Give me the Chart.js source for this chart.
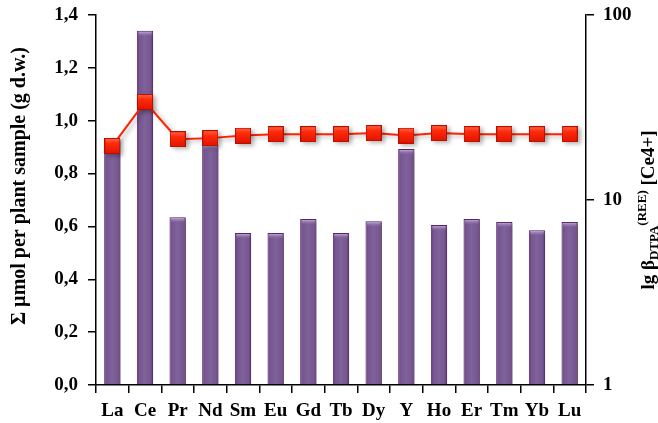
<!DOCTYPE html>
<html>
<head>
<meta charset="utf-8">
<script src="https://cdn.jsdelivr.net/npm/chart.js@4.4.0/dist/chart.umd.min.js"></script>
<style>
  html, body { margin: 0; padding: 0; background: #fff; }
  #wrap { width: 658px; height: 423px; }
</style>
</head>
<body>
<div id="wrap"><canvas id="chart" width="658" height="423"></canvas></div>
<script>
const elements = ['La', 'Ce', 'Pr', 'Nd', 'Sm', 'Eu', 'Gd', 'Tb', 'Dy', 'Y', 'Ho', 'Er', 'Tm', 'Yb', 'Lu'];
const umolPerSample = [0.93, 1.34, 0.635, 0.91, 0.575, 0.575, 0.628, 0.575, 0.62, 0.893, 0.605, 0.628, 0.617, 0.586, 0.617];
const lgBeta = [19.6, 33.9, 21.3, 21.6, 22.3, 22.7, 22.7, 22.7, 23.0, 22.3, 23.0, 22.7, 22.7, 22.7, 22.7];
const leftTicks = [0, 0.2, 0.4, 0.6, 0.8, 1.0, 1.2, 1.4];
const rightTicks = [1, 10, 100];

const SERIF = "'Liberation Serif', 'Times New Roman', serif";
const tickFont = { family: SERIF, size: 19, weight: 'bold' };

// red square marker with a bit of shading
function makeMarker() {
  const c = document.createElement('canvas');
  c.width = 16; c.height = 16;
  const g = c.getContext('2d');
  const grad = g.createLinearGradient(0, 0, 0, 16);
  grad.addColorStop(0, '#ff6a4a');
  grad.addColorStop(0.35, '#ff2a0a');
  grad.addColorStop(1, '#e01400');
  g.fillStyle = grad;
  g.fillRect(0, 0, 16, 16);
  g.strokeStyle = '#b81000';
  g.lineWidth = 1;
  g.strokeRect(0.5, 0.5, 15, 15);
  return c;
}
const marker = makeMarker();

function barFill(ctx) {
  const chart = ctx.chart;
  const xs = chart.scales && chart.scales.x;
  if (!xs || ctx.dataIndex === undefined) return '#7a5c92';
  const cx = xs.getPixelForValue(ctx.dataIndex);
  if (!isFinite(cx)) return '#7a5c92';
  const half = 8.5;
  const grad = chart.ctx.createLinearGradient(cx - half, 0, cx + half, 0);
  grad.addColorStop(0, '#5a2670');
  grad.addColorStop(0.16, '#765692');
  grad.addColorStop(0.5, '#7e6298');
  grad.addColorStop(0.84, '#765692');
  grad.addColorStop(1, '#5a2670');
  return grad;
}

const shadowPlugin = {
  id: 'shadow',
  beforeDatasetDraw(chart) {
    const ctx = chart.ctx;
    ctx.save();
    ctx.shadowColor = 'rgba(0,0,0,0.3)';
    ctx.shadowBlur = 4;
    ctx.shadowOffsetX = 3;
    ctx.shadowOffsetY = 2;
  },
  afterDatasetDraw(chart, args) {
    const ctx = chart.ctx;
    ctx.restore();
    // lighter cap on top of each bar
    if (args.meta.type !== 'bar') return;
    ctx.save();
    args.meta.data.forEach(bar => {
      const w = bar.width - 3;
      const g = ctx.createLinearGradient(0, bar.y + 1, 0, bar.y + 6);
      g.addColorStop(0, 'rgba(200,170,215,0.9)');
      g.addColorStop(1, 'rgba(126,98,152,0)');
      ctx.fillStyle = g;
      ctx.fillRect(bar.x - w / 2, bar.y + 1, w, 5);
    });
    ctx.restore();
  }
};

const titlePlugin = {
  id: 'axisTitles',
  afterDraw(chart) {
    const ctx = chart.ctx;
    ctx.save();
    ctx.fillStyle = '#000';
    ctx.textBaseline = 'middle';
    // left title
    ctx.font = 'bold 20px ' + SERIF;
    ctx.translate(20, 186);
    ctx.rotate(-Math.PI / 2);
    ctx.textAlign = 'center';
    ctx.fillText('\u03A3 \u00B5mol per plant sample (g d.w.)', 0, 0);
    ctx.restore();

    // right title: lg beta, subscript DTPA, superscript (REE), [Ce4+]
    ctx.save();
    ctx.fillStyle = '#000';
    ctx.textBaseline = 'alphabetic';
    const big = 'bold 19px ' + SERIF;
    const small = 'bold 13px ' + SERIF;
    const t0 = 'lg \u03B2', t1 = 'DTPA', t2 = '(REE)', t3 = ' [Ce4+]';
    ctx.font = big; const w0 = ctx.measureText(t0).width;
    ctx.font = small; const w1 = ctx.measureText(t1).width;
    const w2 = ctx.measureText(t2).width;
    ctx.font = big; const w3 = ctx.measureText(t3).width;
    const total = w0 + w1 + w2 + w3;
    ctx.translate(654, 210);
    ctx.rotate(-Math.PI / 2);
    let x = -total / 2;
    ctx.font = big; ctx.fillText(t0, x, 0); x += w0;
    ctx.font = small; ctx.fillText(t1, x, 4); x += w1;
    ctx.fillText(t2, x, -8); x += w2;
    ctx.font = big; ctx.fillText(t3, x, 0);
    ctx.restore();
  }
};

function noPad(s) { s.paddingTop = 0; s.paddingBottom = 0; }

new Chart(document.getElementById('chart').getContext('2d'), {
  data: {
    labels: elements,
    datasets: [
      {
        type: 'line',
        label: 'lg beta',
        data: lgBeta,
        yAxisID: 'y1',
        order: 0,
        borderColor: '#ff2200',
        borderWidth: 2,
        pointStyle: marker,
        pointRadius: 8,
        tension: 0
      },
      {
        type: 'bar',
        label: 'umol',
        data: umolPerSample,
        yAxisID: 'y',
        order: 1,
        backgroundColor: barFill,
        borderColor: '#5a2670',
        borderWidth: 1,
        barPercentage: 0.5,
        categoryPercentage: 1
      }
    ]
  },
  options: {
    responsive: false,
    animation: false,
    devicePixelRatio: 1,
    layout: { padding: { top: 15, left: 0, right: 0, bottom: 0 } },
    plugins: { legend: { display: false }, tooltip: { enabled: false } },
    scales: {
      x: {
        offset: true,
        grid: { offset: true, drawOnChartArea: false, tickLength: 8, color: '#000', lineWidth: 1.5 },
        border: { color: '#000', width: 1.5 },
        ticks: { font: tickFont, color: '#000', padding: 7, maxRotation: 0, autoSkip: false },
        afterFit(s) { s.height = 38; s.paddingLeft = 0; s.paddingRight = 0; }
      },
      y: {
        position: 'left',
        min: 0, max: 1.4,
        grid: { drawOnChartArea: false, tickLength: 8, color: '#000', lineWidth: 1.5 },
        border: { color: '#000', width: 1.5 },
        ticks: { font: tickFont, color: '#000', padding: 10, callback: v => v.toFixed(1).replace('.', ',') },
        afterBuildTicks(s) { s.ticks = leftTicks.map(v => ({ value: v })); },
        afterFit(s) { s.width = 96; noPad(s); }
      },
      y1: {
        type: 'logarithmic',
        position: 'right',
        min: 1, max: 100,
        grid: { drawOnChartArea: false, tickLength: 8, color: '#000', lineWidth: 1.5 },
        border: { color: '#000', width: 1.5 },
        ticks: { font: tickFont, color: '#000', padding: 9, callback: v => String(v) },
        afterBuildTicks(s) { s.ticks = rightTicks.map(v => ({ value: v })); },
        afterFit(s) { s.width = 72; noPad(s); }
      }
    }
  },
  plugins: [shadowPlugin, titlePlugin]
});
</script>
</body>
</html>
